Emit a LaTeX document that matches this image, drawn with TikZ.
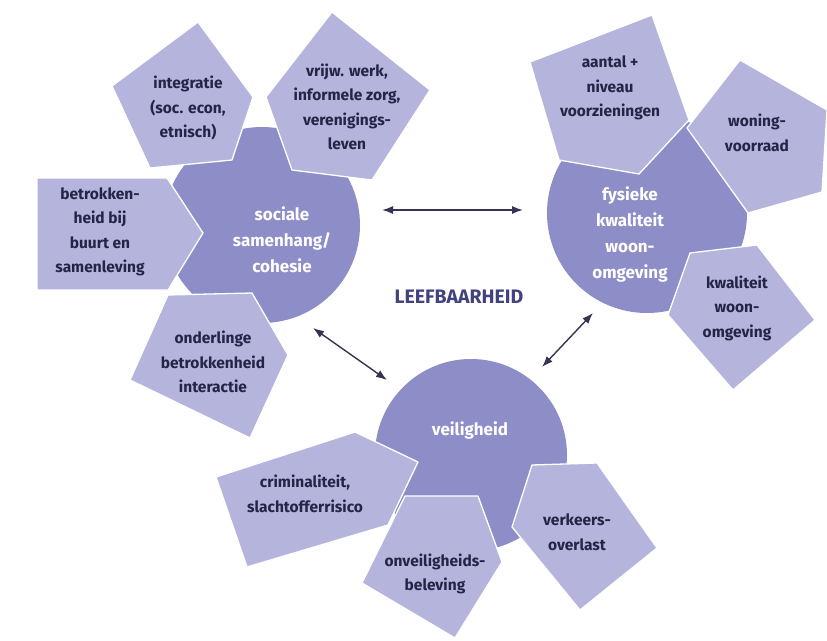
\documentclass[tikz,border=0pt]{standalone}
\usepackage{fontspec}
\setmainfont{Fira Sans}
\usetikzlibrary{arrows.meta}
\definecolor{circ}{RGB}{141,141,200}
\definecolor{pent}{RGB}{180,180,221}
\definecolor{ink}{RGB}{36,36,70}
\definecolor{arr}{RGB}{52,52,82}
\definecolor{ttl}{RGB}{66,66,126}
\begin{document}
\begin{tikzpicture}[x=1pt,y=-1pt,
 core/.style={fill=circ},
 pentagon/.style={fill=pent, draw=white, line width=1.3pt, line join=round},
 ptext/.style={align=center, text=ink, font=\fontsize{15.5}{24.5}\selectfont\bfseries, inner sep=0pt},
 ctext/.style={align=center, text=white, font=\fontsize{17}{26}\selectfont\bfseries, inner sep=0pt},
 link/.style={{Latex[length=11pt,width=8pt]}-{Latex[length=11pt,width=8pt]}, draw=arr, line width=1.4pt}]
\useasboundingbox (0,0) rectangle (827,640);
\fill[white] (0,0) rectangle (827,640);

% central circles
\fill[core] (262,225) circle (98);
\fill[core] (647,213) circle (100);
\fill[core] (471,455) circle (96);

% pentagons around "sociale samenhang"
\filldraw[pentagon] (198,22) -- (253,97) -- (232,160) -- (150,168) -- (112,86) -- cycle;
\filldraw[pentagon] (332,12) -- (430,90) -- (372,180) -- (292,170) -- (266,97) -- cycle;
\filldraw[pentagon] (37,178) -- (167,178) -- (203,233) -- (168,290) -- (37,290) -- cycle;
\filldraw[pentagon] (168,295) -- (252,293) -- (288,355) -- (250,438) -- (130,380) -- cycle;

% pentagons around "fysieke kwaliteit"
\filldraw[pentagon] (530,62) -- (652,15) -- (689,120) -- (639,174) -- (559,160) -- cycle;
\filldraw[pentagon] (740,60) -- (827,110) -- (822,192) -- (748,213) -- (687,128) -- cycle;
\filldraw[pentagon] (690,253) -- (757,245) -- (815,320) -- (733,390) -- (668,315) -- cycle;

% pentagons around "veiligheid"
\filldraw[pentagon] (216,477) -- (355,432) -- (418,462) -- (388,525) -- (247,567) -- cycle;
\filldraw[pentagon] (405,496) -- (478,496) -- (502,562) -- (455,638) -- (362,583) -- cycle;
\filldraw[pentagon] (532,465) -- (597,463) -- (657,548) -- (580,610) -- (512,527) -- cycle;

% circle texts
\node[ctext] (soc) at (282,240) {sociale\\samenhang/\\cohesie};
\node[ctext] (fys) at (630,234) {fysieke\\kwaliteit\\woon-\\omgeving};
\node[ctext] (vei) at (470,430) {veiligheid};

% pentagon texts
\node[ptext] (integ) at (188,108) {integratie\\(soc. econ,\\etnisch)};
\node[ptext] (vrijw) at (347,107) {vrijw. werk,\\informele zorg,\\verenigings-\\leven};
\node[ptext] (betr) at (100,232) {betrokken-\\heid bij\\buurt en\\samenleving};
\node[ptext] (onder) at (213,362) {onderlinge\\betrokkenheid\\interactie};
\node[ptext] (aant) at (610,88) {aantal +\\niveau\\voorzieningen};
\node[ptext] (won) at (757,133) {woning-\\voorraad};
\node[ptext] (kwal) at (737,308) {kwaliteit\\woon-\\omgeving};
\node[ptext] (crim) at (305,494) {criminaliteit,\\slachtofferrisico};
\node[ptext] (onv) at (435,574) {onveiligheids-\\beleving};
\node[ptext] (verk) at (577,532) {verkeers-\\overlast};

% title
\node[text=ttl, font=\fontsize{19.5}{22}\selectfont\bfseries, inner sep=0pt] (title) at (459,297) {LEEFBAARHEID};

% connectors
\coordinate (a1) at (382,210);
\coordinate (a2) at (523,210);
\coordinate (b1) at (313,328);
\coordinate (b2) at (387,380);
\coordinate (c1) at (593,313);
\coordinate (c2) at (542,367);
\draw[link] (a1) -- (a2);
\draw[link] (b1) -- (b2);
\draw[link] (c1) -- (c2);
\end{tikzpicture}
\end{document}
